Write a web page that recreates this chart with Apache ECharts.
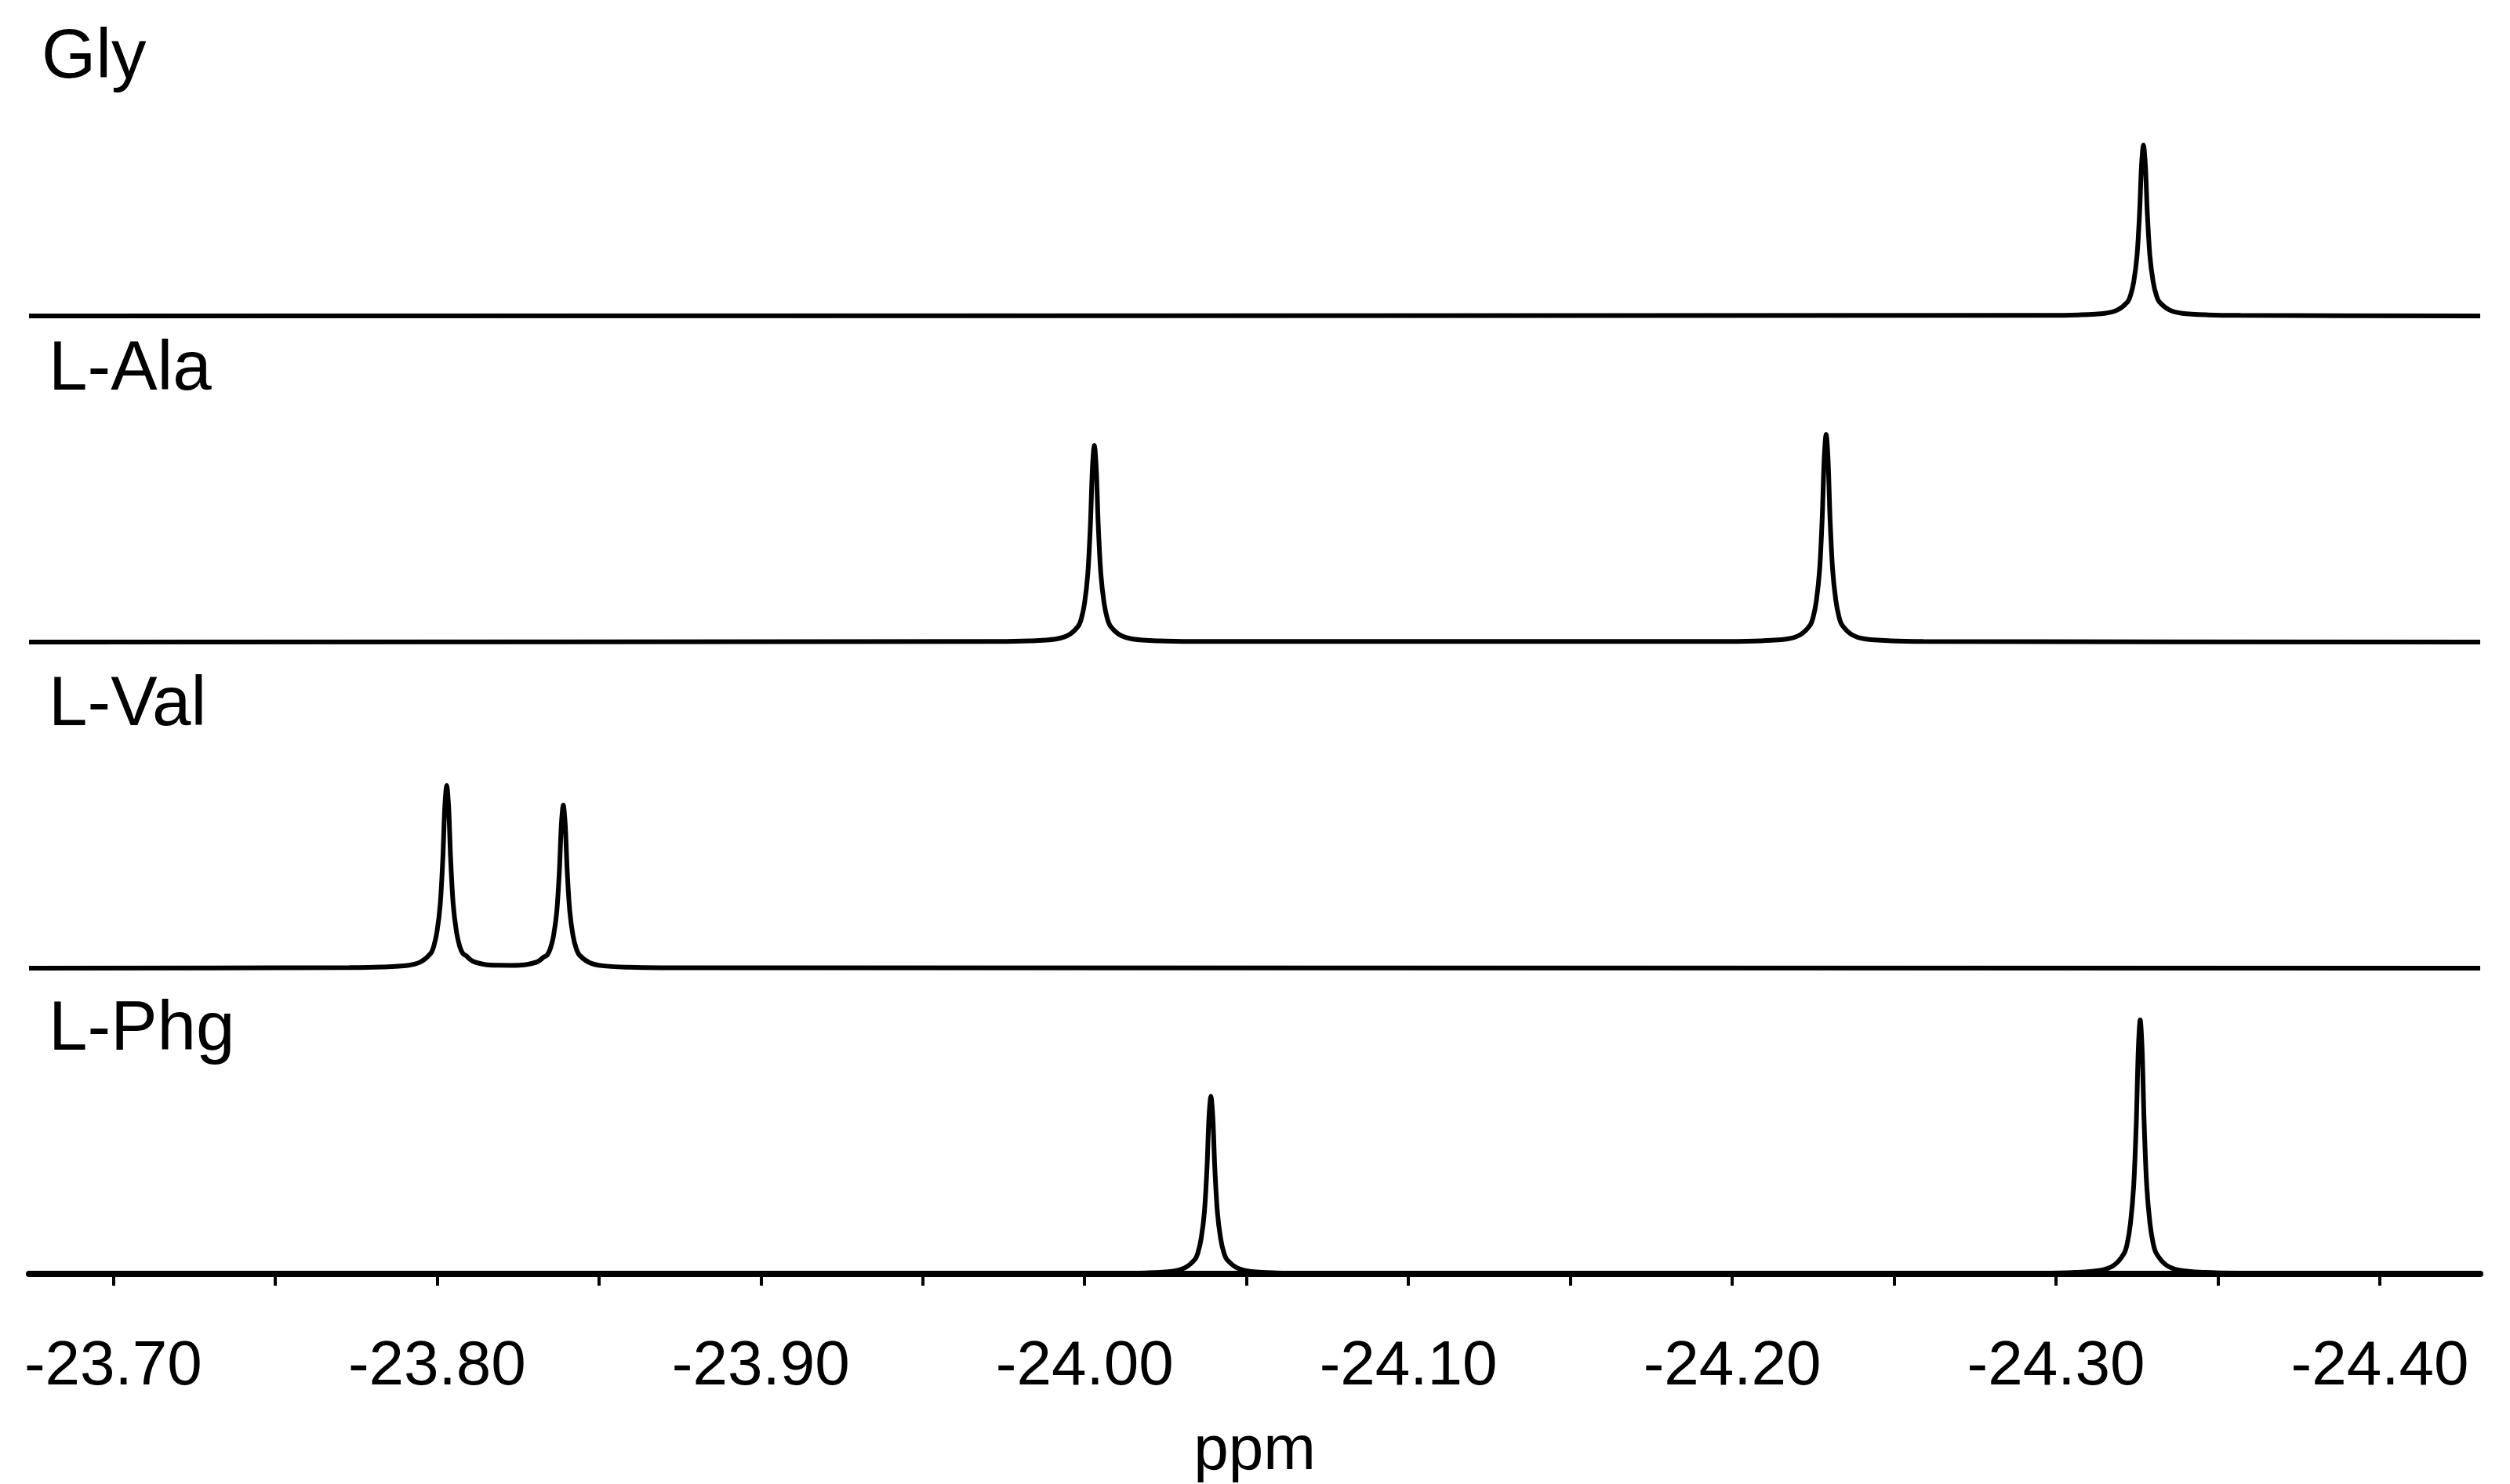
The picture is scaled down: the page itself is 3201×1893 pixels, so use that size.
<!DOCTYPE html>
<html><head><meta charset="utf-8">
<script src="https://cdn.jsdelivr.net/npm/echarts@6/dist/echarts.min.js"></script>
<style>html,body{margin:0;padding:0;background:#fff}#c{width:3201px;height:1893px}</style>
</head><body><div id="c"></div>
<script>
// sample names
const names = ['Gly', 'L-Ala', 'L-Val', 'L-Phg'];
// peak positions (ppm) and heights (px-like intensity units)
const glyPeaks = [[-24.327, 218]];
const alaPeaks = [[-24.003, 251], [-24.229, 265]];
const valPeaks = [[-23.803, 233], [-23.839, 208]];
const phgPeaks = [[-24.039, 239], [-24.326, 342]];
// peak line shape: [offset ppm, relative height]
const profile = [[-0.03,0.003],[-0.02,0.006],[-0.012,0.015],[-0.008,0.035],[-0.005,0.08],[-0.004,0.12],[-0.003,0.2],[-0.002,0.35],[-0.0012,0.6],[-0.0006,0.88],[0,1],
  [0.0006,0.88],[0.0012,0.6],[0.002,0.35],[0.003,0.2],[0.004,0.12],[0.005,0.08],[0.008,0.035],[0.012,0.015],[0.02,0.006],[0.03,0.003]];
const axisTicks = [-23.70,-23.75,-23.80,-23.85,-23.90,-23.95,-24.00,-24.05,-24.10,-24.15,-24.20,-24.25,-24.30,-24.35,-24.40];
const axisLabels = [-23.70,-23.80,-23.90,-24.00,-24.10,-24.20,-24.30,-24.40];
const xMin = -24.431, xMax = -23.674;

function spectrum(peaks){
  const pts = [[xMax,0],[xMin,0]];
  peaks.forEach(p => profile.forEach(q => pts.push([p[0]+q[0], 0])));
  const xs = [...new Set(pts.map(p=>+p[0].toFixed(5)))].sort((a,b)=>b-a);
  return xs.map(x => {
    let y = 0;
    peaks.forEach(p => {
      const d = x - p[0];
      for (let i=0;i<profile.length-1;i++){
        const a=profile[i], b=profile[i+1];
        if (d>=a[0]-1e-9 && d<=b[0]+1e-9){ const t=(d-a[0])/(b[0]-a[0]); y += p[1]*(a[1]+(b[1]-a[1])*t); break; }
      }
    });
    return [x, y];
  });
}
const all = [glyPeaks, alaPeaks, valPeaks, phgPeaks];
const bottoms = [403, 819, 1235, 1645];
const H = 380;
const font = '"Liberation Sans", Arial, sans-serif';
const grids = [], xAxes = [], yAxes = [], series = [], graphics = [];
const labelBase = [112, 510, 938, 1352];
all.forEach((pk, i) => {
  grids.push({left: 37, right: 3201-3163, top: bottoms[i]-H, height: H});
  const last = i === 3;
  xAxes.push({type:'value', gridIndex:i, inverse:true, min:xMin, max:xMax, show:last, offset: last?37:0,
    axisLine:{show:true, lineStyle:{color:'#000', width:8}},
    axisTick:{show:true, customValues: axisTicks, length:15, inside:false, lineStyle:{color:'#000', width:4}},
    axisLabel:{customValues: axisLabels, formatter: v => v.toFixed(2), fontSize:80, fontFamily:font, color:'#000', margin:42},
    splitLine:{show:false},
    name: last?'ppm':'', nameLocation:'middle', nameGap:150, nameTextStyle:{fontSize:80, fontFamily:font, color:'#000'}});
  yAxes.push({type:'value', gridIndex:i, min:0, max:H, show:false});
  series.push({type:'line', xAxisIndex:i, yAxisIndex:i, data: spectrum(pk), showSymbol:false, clip:false, smooth:0.3,
    lineStyle:{color:'#000', width:6}, animation:false});
  graphics.push({type:'text', left: i===0?53:62, top: labelBase[i]-82, style:{text:names[i], fontSize:89, fontFamily:font, fill:'#000'}});
});
const chart = echarts.init(document.getElementById('c'));
chart.setOption({animation:false, backgroundColor:'#fff', grid:grids, xAxis:xAxes, yAxis:yAxes, series, graphic:graphics});
</script></body></html>
